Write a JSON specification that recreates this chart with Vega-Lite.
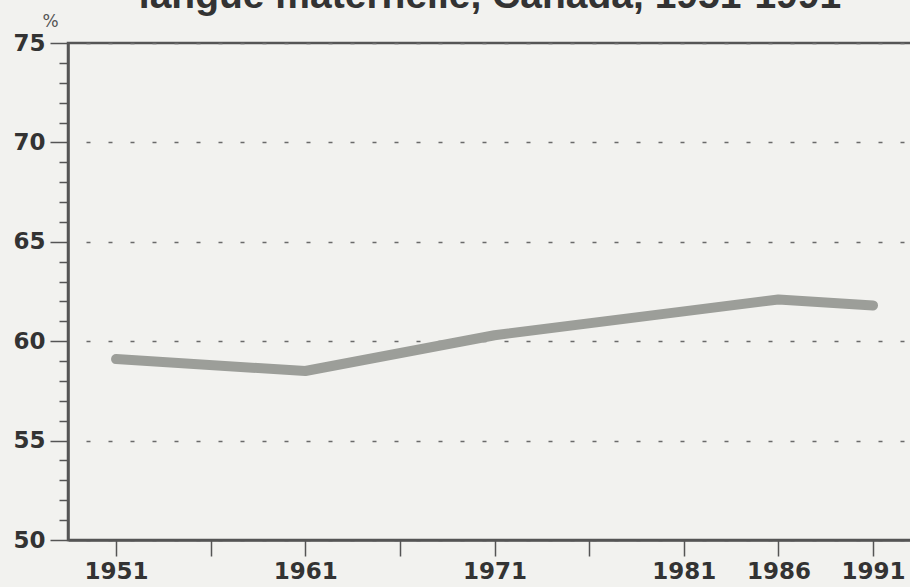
{
  "$schema": "https://vega.github.io/schema/vega-lite/v6.json",
  "width": 844,
  "height": 497,
  "autosize": {"type": "none"},
  "padding": {"left": 68, "top": 43, "right": 0, "bottom": 47},
  "background": "#f2f2ef",
  "title": {
    "text": "langue maternelle, Canada, 1951-1991",
    "font": "Liberation Sans",
    "fontSize": 39,
    "fontWeight": "bold",
    "color": "#333333",
    "anchor": "middle",
    "baseline": "alphabetic",
    "offset": 2,
    "dy": 37
  },
  "config": {
    "view": {"stroke": "#555555", "strokeWidth": 2.5},
    "axis": {
      "domainColor": "#555555",
      "domainWidth": 2.5,
      "tickColor": "#555555",
      "tickWidth": 1.5,
      "labelFont": "DejaVu Sans",
      "labelFontWeight": "bold",
      "labelFontSize": 23,
      "labelColor": "#333333",
      "titleFont": "DejaVu Sans"
    }
  },
  "data": {
    "values": [
      {"year": 1951, "pct": 59.1},
      {"year": 1961, "pct": 58.5},
      {"year": 1971, "pct": 60.3},
      {"year": 1981, "pct": 61.5},
      {"year": 1986, "pct": 62.1},
      {"year": 1991, "pct": 61.8}
    ]
  },
  "layer": [
    {
      "mark": {"type": "line", "color": "#9c9e99", "strokeWidth": 10, "strokeCap": "round", "strokeJoin": "round"},
      "encoding": {
        "x": {
          "field": "year",
          "type": "quantitative",
          "scale": {"domain": [1948.46, 1993.06], "nice": false, "zero": false},
          "axis": {
            "title": null,
            "values": [1951, 1956, 1961, 1966, 1971, 1976, 1981, 1986, 1991],
            "labelExpr": "indexof([1956, 1966, 1976], datum.value) >= 0 ? '' : format(datum.value, 'd')",
            "tickSize": 16,
            "labelPadding": 4,
            "grid": false,
            "labelFlush": false,
            "labelOverlap": false
          }
        },
        "y": {
          "field": "pct",
          "type": "quantitative",
          "scale": {"domain": [50, 75], "nice": false, "zero": false},
          "axis": {
            "orient": "left",
            "title": "%",
            "titleAngle": 0,
            "titleX": -18,
            "titleY": -22,
            "titleAlign": "center",
            "titleBaseline": "middle",
            "titleFontSize": 17,
            "titleFontWeight": "normal",
            "titleColor": "#555555",
            "values": [50, 55, 60, 65, 70, 75],
            "tickSize": 18,
            "labelPadding": 5,
            "grid": true,
            "gridColor": "#6a6a6a",
            "gridWidth": 1.5,
            "gridDash": [4, 18],
            "gridDashOffset": 4,
            "labelFlush": false,
            "labelOverlap": false
          }
        }
      }
    },
    {
      "mark": {"type": "point", "opacity": 0},
      "encoding": {
        "x": {"field": "year", "type": "quantitative"},
        "y": {
          "field": "pct",
          "type": "quantitative",
          "axis": {
            "orient": "left",
            "title": null,
            "values": [51, 52, 53, 54, 56, 57, 58, 59, 61, 62, 63, 64, 66, 67, 68, 69, 71, 72, 73, 74],
            "labels": false,
            "domain": false,
            "grid": false,
            "tickSize": 9
          }
        }
      }
    }
  ],
  "resolve": {"axis": {"y": "independent"}}
}
